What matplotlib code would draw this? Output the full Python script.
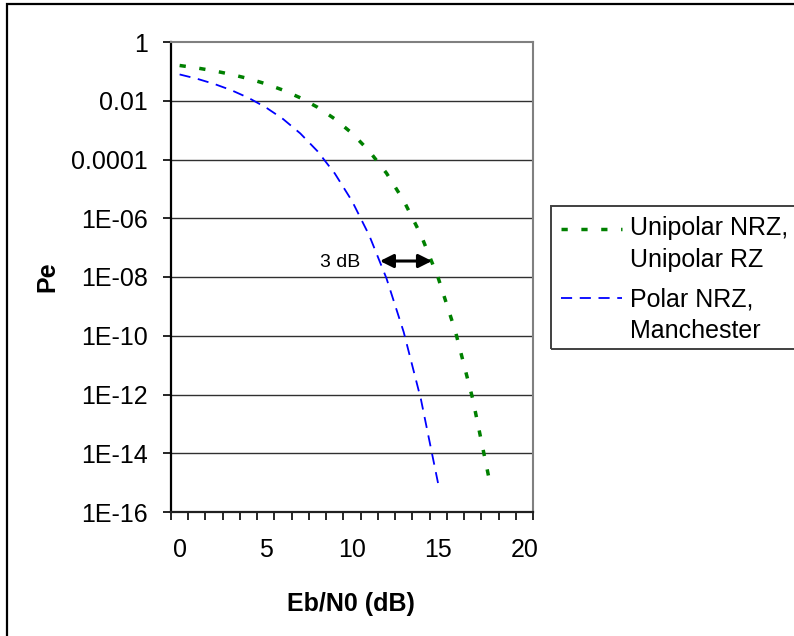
import matplotlib
matplotlib.use("Agg")
import matplotlib.pyplot as plt
from matplotlib.patches import Rectangle
from matplotlib.lines import Line2D
from matplotlib.ticker import FixedLocator, FixedFormatter, NullLocator

plt.rcParams['font.family'] = ['Liberation Sans', 'DejaVu Sans']
plt.rcParams['lines.scale_dashes'] = False

# Data
ebn0_unipolar = [0, 1, 2, 3, 4, 5, 6, 7, 8, 9, 10, 11, 12, 13, 14, 15, 16, 17, 18]
pe_unipolar = [0.1587, 0.1309, 0.1040, 0.0789, 0.0565, 0.0377, 0.0230, 0.0126,
               6.00e-3, 2.41e-3, 7.83e-4, 1.94e-4, 3.43e-5, 3.97e-6, 2.70e-7,
               9.36e-9, 1.40e-10, 7.2e-13, 9.9e-16]
ebn0_polar = [0, 1, 2, 3, 4, 5, 6, 7, 8, 9, 10, 11, 12, 13, 14, 15]
pe_polar = [0.0786, 0.0563, 0.0375, 0.0229, 0.0125, 5.95e-3, 2.39e-3, 7.73e-4,
            1.91e-4, 3.36e-5, 3.87e-6, 2.61e-7, 9.0e-9, 1.33e-10, 6.8e-13, 9.1e-16]

label_unipolar = "Unipolar NRZ,\nUnipolar RZ"
label_polar = "Polar NRZ,\nManchester"
y_tick_values = [1, 1e-2, 1e-4, 1e-6, 1e-8, 1e-10, 1e-12, 1e-14, 1e-16]
y_tick_labels = ["1", "0.01", "0.0001", "1E-06", "1E-08", "1E-10", "1E-12", "1E-14", "1E-16"]
x_tick_values = [0, 5, 10, 15, 20]
x_tick_labels = ["0", "5", "10", "15", "20"]
xlabel = "Eb/N0 (dB)"
ylabel = "Pe"
annot_text = "3 dB"

W, H = 794, 636
fig = plt.figure(figsize=(W / 100, H / 100), dpi=100)
fig.patch.set_facecolor('white')

def fx(px):
    return px / W

def fy(py):
    return 1 - py / H

ax = fig.add_axes([fx(171), fy(512), fx(533) - fx(171), fy(42) - fy(512)])
ax.set_yscale('log')
ax.set_xlim(-0.5, 20.5)
ax.set_ylim(1e-16, 1)

green = '#008000'
blue = '#0000FF'
ax.plot(ebn0_unipolar, pe_unipolar, color=green, lw=2.5, dashes=(4.5, 9.8),
        solid_capstyle='butt', dash_capstyle='butt', zorder=3)
ax.plot(ebn0_polar, pe_polar, color=blue, lw=1.3, dashes=(8, 5.5),
        dash_capstyle='butt', zorder=3)

# gridlines
for v in y_tick_values[1:-1]:
    ax.axhline(v, color='#303030', lw=1.0, zorder=1)

ax.yaxis.set_major_locator(FixedLocator(y_tick_values))
ax.yaxis.set_major_formatter(FixedFormatter(y_tick_labels))
ax.yaxis.set_minor_locator(NullLocator())
ax.xaxis.set_major_locator(FixedLocator(x_tick_values))
ax.xaxis.set_major_formatter(FixedFormatter(x_tick_labels))
ax.xaxis.set_minor_locator(FixedLocator([i - 0.5 for i in range(22)]))

ax.tick_params(axis='y', which='major', direction='out', length=5.5, width=1.2,
               pad=11, labelsize=18, color='black')
ax.tick_params(axis='x', which='major', length=0, pad=19, labelsize=18)
ax.tick_params(axis='x', which='minor', direction='out', length=5.5, width=1.2,
               color='black')

for s in ['top', 'right']:
    ax.spines[s].set_color('#808080')
    ax.spines[s].set_linewidth(1.5)
ax.spines['left'].set_color('black')
ax.spines['left'].set_linewidth(1.6)
ax.spines['bottom'].set_color('#202020')
ax.spines['bottom'].set_linewidth(1.6)

# 3 dB annotation
ax.annotate('', xy=(11.62, 3.5e-8), xytext=(14.64, 3.5e-8),
            arrowprops=dict(arrowstyle='<|-|>', color='black', lw=2.2,
                            mutation_scale=20, shrinkA=0, shrinkB=0), zorder=4)
ax.text(10.46, 2.2e-8, annot_text, fontsize=14, ha='right', va='baseline')

# axis labels
fig.text(fx(47), fy(277), ylabel, rotation=90, ha='center', va='center',
         fontsize=18, fontweight='bold')
fig.text(fx(351), fy(604), xlabel, ha='center', va='center',
         fontsize=18, fontweight='bold')

# legend (drawn manually)
fig.patches.append(Rectangle((fx(551), fy(349)), fx(300), fy(206) - fy(349),
                             transform=fig.transFigure, fill=False,
                             edgecolor='#404040', lw=1.4))
fig.lines.append(Line2D([fx(561), fx(622)], [fy(229), fy(229)],
                        transform=fig.transFigure, color=green, lw=2.5,
                        dashes=(4.5, 9.8), dash_capstyle='butt'))
fig.lines.append(Line2D([fx(561), fx(622)], [fy(298), fy(298)],
                        transform=fig.transFigure, color=blue, lw=1.3,
                        dashes=(8, 5.5), dash_capstyle='butt'))
u1, u2 = label_unipolar.split('\n')
p1, p2 = label_polar.split('\n')
for txt, by in [(u1, 235), (u2, 267), (p1, 307), (p2, 338)]:
    fig.text(fx(630), fy(by), txt, ha='left', va='baseline', fontsize=18)

# figure border
fig.patches.append(Rectangle((fx(7), fy(700)), fx(900), fy(4) - fy(700),
                             transform=fig.transFigure, fill=False,
                             edgecolor='black', lw=1.6))

fig.savefig('out.png', dpi=100)
